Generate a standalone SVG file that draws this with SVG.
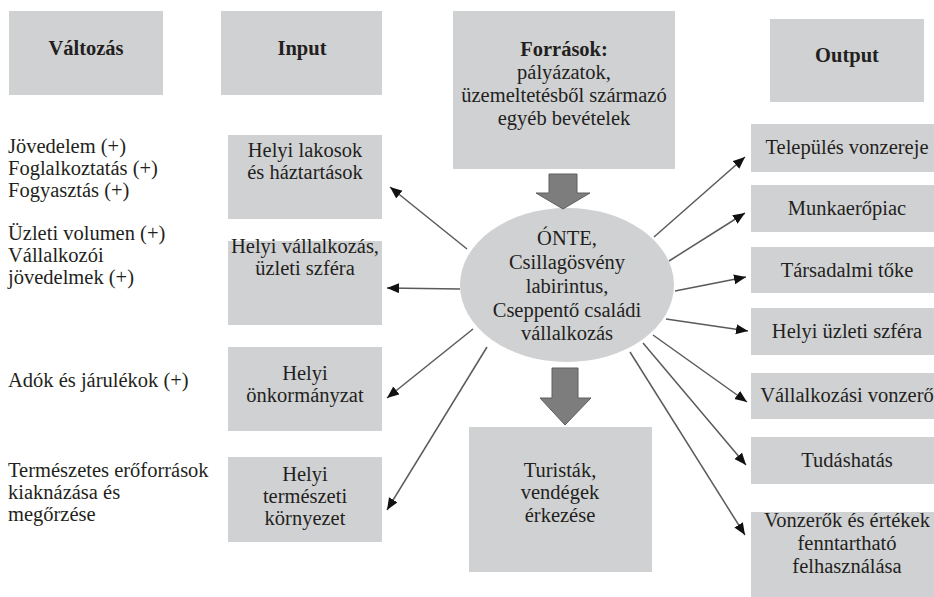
<svg xmlns="http://www.w3.org/2000/svg" width="934" height="597" viewBox="0 0 934 597">
<style>
  .box { fill: #d0d1d3; }
  .t { font-family: "Liberation Serif", "Times New Roman", serif; font-size: 20.5px; fill: #231f20; }
  .c { text-anchor: middle; }
  .b { font-weight: bold; }
  .conn { stroke: #5a5a5a; stroke-width: 1.5; fill: none; marker-end: url(#ah); }
  .bigarrow { fill: #7d7d7d; stroke: #5e5e5e; stroke-width: 1; }
</style>
<defs>
  <marker id="ah" markerUnits="userSpaceOnUse" markerWidth="14" markerHeight="12" refX="12" refY="5" orient="auto">
    <path d="M0,0 L12,5 L0,10 Z" fill="#111"/>
  </marker>
</defs>
<rect width="934" height="597" fill="#ffffff"/>

<g id="valtozas">
  <rect class="box" x="9" y="11" width="154" height="84"/>
  <text class="t c b" x="86" y="55">Változás</text>
</g>
<g id="input">
  <rect class="box" x="221" y="11" width="161" height="84"/>
  <text class="t c b" x="302" y="55">Input</text>
</g>
<g id="forrasok">
  <rect class="box" x="453" y="11" width="222" height="158"/>
  <text class="t c" x="564"><tspan class="b" x="564" y="56">Források:</tspan><tspan x="564" y="79">pályázatok,</tspan><tspan x="564" y="102">üzemeltetésből származó</tspan><tspan x="564" y="125">egyéb bevételek</tspan></text>
</g>
<g id="output">
  <rect class="box" x="770" y="19" width="154" height="83"/>
  <text class="t c b" x="847" y="62">Output</text>
</g>

<g id="valtozas-1">
  <text class="t" x="8"><tspan x="8" y="153">Jövedelem (+)</tspan><tspan x="8" y="175">Foglalkoztatás (+)</tspan><tspan x="8" y="197">Fogyasztás (+)</tspan></text>
</g>
<g id="valtozas-2">
  <text class="t" x="8"><tspan x="8" y="240">Üzleti volumen (+)</tspan><tspan x="8" y="262">Vállalkozói</tspan><tspan x="8" y="284">jövedelmek (+)</tspan></text>
</g>
<g id="valtozas-3">
  <text class="t" x="8" y="387">Adók és járulékok (+)</text>
</g>
<g id="valtozas-4">
  <text class="t" x="8"><tspan x="8" y="477">Természetes erőforrások</tspan><tspan x="8" y="499">kiaknázása és</tspan><tspan x="8" y="521">megőrzése</tspan></text>
</g>

<g id="lakosok">
  <rect class="box" x="228" y="135" width="154" height="84"/>
  <text class="t c" x="305"><tspan x="305" y="157">Helyi lakosok</tspan><tspan x="305" y="179">és háztartások</tspan></text>
</g>
<g id="vallalkozas">
  <rect class="box" x="228" y="241" width="154" height="84"/>
  <text class="t c" x="305"><tspan x="305" y="253">Helyi vállalkozás,</tspan><tspan x="305" y="275">üzleti szféra</tspan></text>
</g>
<g id="onkormanyzat">
  <rect class="box" x="228" y="347" width="154" height="84"/>
  <text class="t c" x="305"><tspan x="305" y="380">Helyi</tspan><tspan x="305" y="402">önkormányzat</tspan></text>
</g>
<g id="kornyezet">
  <rect class="box" x="228" y="457" width="154" height="85"/>
  <text class="t c" x="305"><tspan x="305" y="481">Helyi</tspan><tspan x="305" y="503">természeti</tspan><tspan x="305" y="525">környezet</tspan></text>
</g>

<g id="center">
  <ellipse cx="567" cy="285" rx="107" ry="77" fill="#d0d1d3"/>
  <text class="t c" x="567"><tspan x="567" y="245">ÓNTE,</tspan><tspan x="567" y="269">Csillagösvény</tspan><tspan x="567" y="293">labirintus,</tspan><tspan x="567" y="317">Cseppentő családi</tspan><tspan x="567" y="340">vállalkozás</tspan></text>
</g>

<g id="turistak">
  <rect class="box" x="469" y="427" width="183" height="145"/>
  <text class="t c" x="560"><tspan x="560" y="477">Turisták,</tspan><tspan x="560" y="499">vendégek</tspan><tspan x="560" y="522">érkezése</tspan></text>
</g>

<g id="telepules">
  <rect class="box" x="751" y="124" width="192" height="48"/>
  <text class="t c" x="847" y="154">Település vonzereje</text>
</g>
<g id="munkaeropiac">
  <rect class="box" x="751" y="185" width="192" height="47"/>
  <text class="t c" x="847" y="215">Munkaerőpiac</text>
</g>
<g id="tarsadalmi">
  <rect class="box" x="751" y="247" width="192" height="46"/>
  <text class="t c" x="847" y="277">Társadalmi tőke</text>
</g>
<g id="uzleti">
  <rect class="box" x="751" y="308" width="192" height="47"/>
  <text class="t c" x="847" y="338">Helyi üzleti szféra</text>
</g>
<g id="vonzero">
  <rect class="box" x="751" y="373" width="192" height="46"/>
  <text class="t c" x="847" y="402">Vállalkozási vonzerő</text>
</g>
<g id="tudas">
  <rect class="box" x="751" y="437" width="192" height="47"/>
  <text class="t c" x="847" y="467">Tudáshatás</text>
</g>
<g id="vonzerok">
  <rect class="box" x="751" y="512" width="192" height="90"/>
  <text class="t c" x="847"><tspan x="847" y="527">Vonzerők és értékek</tspan><tspan x="847" y="550">fenntartható</tspan><tspan x="847" y="573">felhasználása</tspan></text>
</g>

<g id="connectors">
  <path class="bigarrow" d="M549,174 L577,174 L577,193 L590,193 L563,209 L536,193 L549,193 Z"/>
  <path class="bigarrow" d="M552,368 L578,368 L578,398 L591,398 L565,425 L540,398 L552,398 Z"/>
  <line class="conn" x1="467" y1="249" x2="390" y2="187"/>
  <line class="conn" x1="460" y1="289" x2="387" y2="288"/>
  <line class="conn" x1="473" y1="329" x2="387" y2="398"/>
  <line class="conn" x1="487" y1="347" x2="387" y2="510"/>
  <line class="conn" x1="654" y1="237" x2="745" y2="157"/>
  <line class="conn" x1="669" y1="261" x2="745" y2="213"/>
  <line class="conn" x1="675" y1="291" x2="746" y2="277"/>
  <line class="conn" x1="666" y1="319" x2="748" y2="331"/>
  <line class="conn" x1="653" y1="335" x2="747" y2="402"/>
  <line class="conn" x1="643" y1="343" x2="746" y2="465"/>
  <line class="conn" x1="630" y1="352" x2="745" y2="535"/>
</g>
</svg>
